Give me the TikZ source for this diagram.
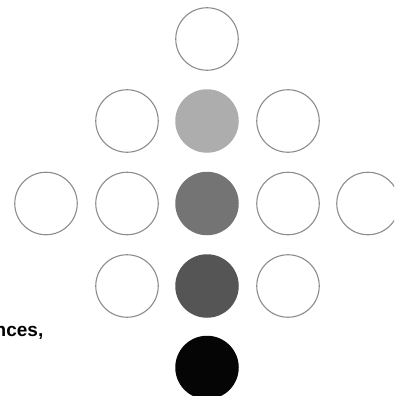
\documentclass[tikz,border=0pt]{standalone}
\usepackage{fontspec}
\setmainfont{Liberation Sans}
\definecolor{ringgray}{HTML}{8C8C8C}
\definecolor{lightfill}{HTML}{ADADAD}
\definecolor{midfill}{HTML}{747474}
\definecolor{darkfill}{HTML}{555555}
\definecolor{blackfill}{HTML}{050505}
\begin{document}
\begin{tikzpicture}[x=1pt,y=-1pt,
  ring/.style={circle, draw=ringgray, line width=1.1pt, minimum size=62.5pt, inner sep=0pt, fill=white},
  dot/.style={circle, minimum size=63.5pt, inner sep=0pt},
  lbl/.style={font=\bfseries\fontsize{19}{21}\selectfont, inner sep=0pt}]
\useasboundingbox (0,0) rectangle (394,396);
\clip (0,0) rectangle (394,396);
% row 1
\node[ring] (r1c3) at (207,39) {};
% row 2
\node[ring] (r2c2) at (127,121) {};
\node[dot, fill=lightfill] (r2c3) at (207,121) {};
\node[ring] (r2c4) at (288,121) {};
% row 3
\node[ring] (r3c1) at (46,203.5) {};
\node[ring] (r3c2) at (127,203.5) {};
\node[dot, fill=midfill] (r3c3) at (207,203.5) {};
\node[ring] (r3c4) at (288,203.5) {};
\node[ring] (r3c5) at (368,203.5) {};
% row 4
\node[ring] (r4c2) at (127,286) {};
\node[dot, fill=darkfill] (r4c3) at (207,286) {};
\node[ring] (r4c4) at (288,286) {};
% row 5
\node[dot, fill=blackfill] (r5c3) at (207,367.5) {};
% clipped label
\node[lbl, anchor=base east] (label) at (43.5,336) {nces,};
\end{tikzpicture}
\end{document}
